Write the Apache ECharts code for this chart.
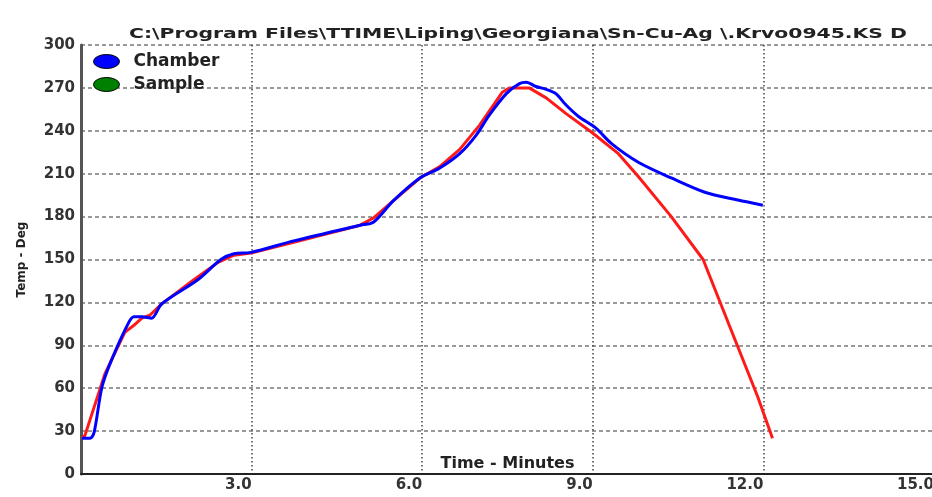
<!DOCTYPE html>
<html>
<head>
<meta charset="utf-8">
<style>html,body{margin:0;padding:0;background:#fff;}#c{width:932px;height:497px;}</style>
<script src="https://cdn.jsdelivr.net/npm/echarts@6/dist/echarts.min.js"></script>
</head>
<body>
<div id="c"></div>
<script>
const titleText = 'C:\\Program Files\\TTIME\\Liping\\Georgiana\\Sn-Cu-Ag \\.Krvo0945.KS D';
const seriesNames = ['Chamber', 'Sample'];
const xTickLabels = ['0.0', '3.0', '6.0', '9.0', '12.0', '15.0'];
const yTickLabels = ['0', '30', '60', '90', '120', '150', '180', '210', '240', '270', '300'];

const chamberTime = [0.02,0.16,0.23,0.37,0.54,0.84,0.93,1.07,1.24,1.42,2.06,2.46,2.69,2.99,3.74,4.91,5.14,5.49,5.96,6.31,6.66,6.95,7.18,7.48,7.71,7.83,8.00,8.18,8.35,8.53,8.75,9.05,9.33,9.80,10.38,10.97,11.55,11.99];
const chamberTemp = [25,25,29,61,80,106,110,110,109,119,136,150,154,155,163,174,176,191,207,214,224,237,251,266,273,274,271,269,266,258,250,242,231,218,207,197,191.6,188];

const sampleTime = [0.02,0.07,0.42,0.77,0.93,1.07,1.21,1.42,1.99,2.41,2.69,2.99,3.74,4.91,5.14,5.49,5.96,6.31,6.66,7.01,7.41,7.53,7.88,8.18,8.53,8.98,9.45,9.80,10.38,10.94,11.20,11.55,11.90,12.16];
const sampleTemp = [25,27,70,99,104,109,111,119,136,148,153,154.5,162,174,179,191,207,215,227,244,267,270,270,263,252,239,224,208,180,150,124,89,54,25];

const FONT = '"DejaVu Sans", Verdana, sans-serif';
const mc = document.createElement('canvas').getContext('2d');
mc.font = 'bold 14px "DejaVu Sans"';
const titleScale = 778 / mc.measureText(titleText).width;

const chart = echarts.init(document.getElementById('c'), null, {renderer: 'canvas'});
const ellipse = 'path://M0,7A13,7 0 1,1 26,7A13,7 0 1,1 0,7Z';

chart.setOption({
  animation: false,
  backgroundColor: '#fff',
  graphic: [{
    type: 'text', x: 129, y: 27, scaleX: titleScale, z: 10,
    style: {text: titleText, font: 'bold 14px ' + FONT, fill: '#222', textVerticalAlign: 'top'}
  }],
  legend: {
    orient: 'vertical', left: 88, top: 48, itemWidth: 26, itemHeight: 14, itemGap: 6,
    symbolKeepAspect: false,
    textStyle: {fontFamily: FONT, fontWeight: 'bold', fontSize: 17, color: '#222', padding: [0, 0, 0, 9]},
    data: [
      {name: seriesNames[0], icon: ellipse, itemStyle: {color: '#0000ff', borderColor: '#000', borderWidth: 1}},
      {name: seriesNames[1], icon: ellipse, itemStyle: {color: '#008000', borderColor: '#000', borderWidth: 1}}
    ]
  },
  grid: {left: 81, right: -2, top: 45, bottom: 23, containLabel: false, outerBoundsMode: 'none'},
  xAxis: {
    type: 'value', min: 0, max: 15, interval: 3,
    name: 'Time - Minutes', nameLocation: 'middle', nameGap: -18, nameMoveOverlap: false,
    nameTextStyle: {fontFamily: FONT, fontWeight: 'bold', fontSize: 16, color: '#222'},
    axisLine: {lineStyle: {color: '#222', width: 2}},
    axisTick: {show: false},
    axisLabel: {
      showMinLabel: false, align: 'right', margin: 4, hideOverlap: false,
      fontFamily: FONT, fontWeight: 'bold', fontSize: 15, color: '#333',
      formatter: v => xTickLabels[Math.round(v / 3)]
    },
    splitLine: {show: true, lineStyle: {color: '#444', width: 1.5, type: [1.5, 2.5]}}
  },
  yAxis: {
    type: 'value', min: 0, max: 300, interval: 30,
    name: 'Temp - Deg', nameLocation: 'middle', nameGap: 53, nameMoveOverlap: false,
    nameTextStyle: {fontFamily: FONT, fontWeight: 'bold', fontSize: 12, color: '#222'},
    axisLine: {show: true, lineStyle: {color: '#555', width: 3}},
    axisTick: {show: false},
    axisLabel: {
      margin: 6, padding: [0, 0, 9, 0],
      fontFamily: FONT, fontWeight: 'bold', fontSize: 15, color: '#333',
      formatter: v => yTickLabels[Math.round(v / 30)]
    },
    splitLine: {show: true, lineStyle: {color: '#999', width: 2, type: [4, 3]}}
  },
  series: [
    {
      name: seriesNames[0], type: 'line', showSymbol: false, smooth: 0.3, z: 4,
      lineStyle: {color: '#0000ff', width: 3}, itemStyle: {color: '#0000ff'},
      data: chamberTime.map((t, i) => [t, chamberTemp[i]])
    },
    {
      name: seriesNames[1], type: 'line', showSymbol: false, smooth: false, z: 3,
      lineStyle: {color: '#ff1a1a', width: 3}, itemStyle: {color: '#ff1a1a'},
      data: sampleTime.map((t, i) => [t, sampleTemp[i]])
    }
  ]
});
</script>
</body>
</html>
